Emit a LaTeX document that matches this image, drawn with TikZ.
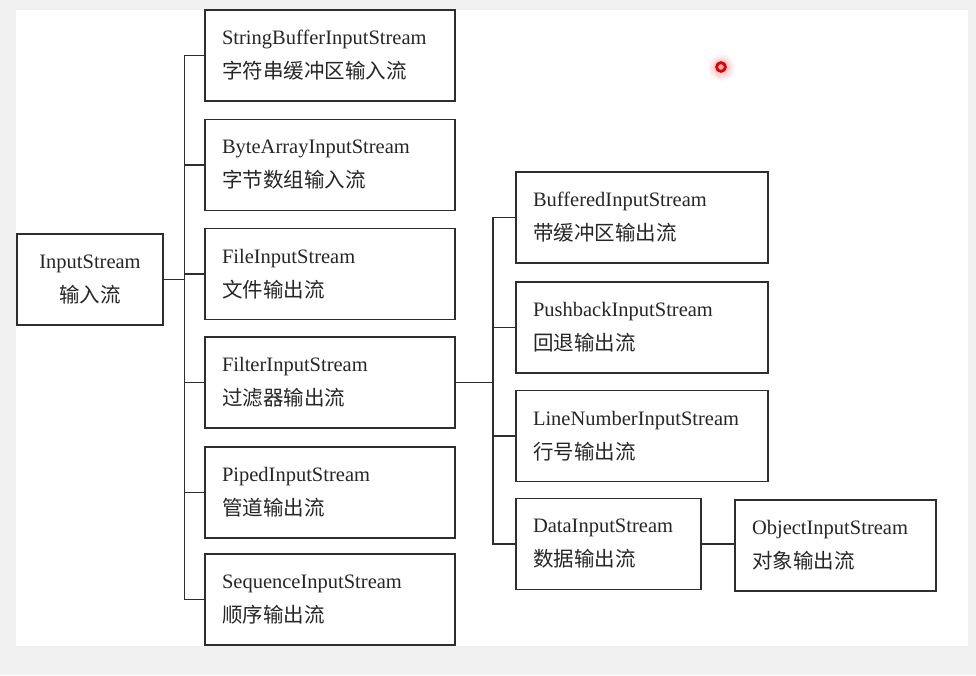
\documentclass[tikz,border=0pt]{standalone}
\usepackage{fontspec}
\setmainfont{Liberation Serif}
\newfontfamily\cjk{Noto Sans CJK SC}
\definecolor{bggray}{HTML}{F0F0F0}
\definecolor{linegray}{HTML}{2E2E2E}
\tikzset{
	box/.style = {draw=linegray, line width=1.3pt, minimum height=91pt, inner xsep=17pt,
		align=left, text=black!85, font=\fontsize{20.5}{34}\selectfont},
	link/.style = {draw=linegray, line width=1.3pt}
}
\begin{document}
\begin{tikzpicture}[x=1pt, y=-1pt]
		\useasboundingbox (0,0) rectangle (976,675);
		\fill[bggray] (0,0) rectangle (976,675);
		\fill[white] (16,10) rectangle (968,646);
		% root
		\node[box, align=center, minimum width=146pt, inner xsep=0pt] (in) at (90,279.5) {InputStream\\{\cjk 输入流}};
		% first level
		\node[box, text width=216pt] (sb) at (330,55.5) {StringBufferInputStream\\{\cjk 字符串缓冲区输入流}};
		\node[box, text width=216pt] (ba) at (330,165) {ByteArrayInputStream\\{\cjk 字节数组输入流}};
		\node[box, text width=216pt] (fi) at (330,274) {FileInputStream\\{\cjk 文件输出流}};
		\node[box, text width=216pt] (fl) at (330,382.5) {FilterInputStream\\{\cjk 过滤器输出流}};
		\node[box, text width=216pt] (pi) at (330,492.5) {PipedInputStream\\{\cjk 管道输出流}};
		\node[box, text width=216pt] (sq) at (330,599.5) {SequenceInputStream\\{\cjk 顺序输出流}};
		% second level
		\node[box, text width=218pt] (bu) at (642,217.5) {BufferedInputStream\\{\cjk 带缓冲区输出流}};
		\node[box, text width=218pt] (pb) at (642,327.5) {PushbackInputStream\\{\cjk 回退输出流}};
		\node[box, text width=218pt] (ln) at (642,436) {LineNumberInputStream\\{\cjk 行号输出流}};
		\node[box, text width=151pt] (da) at (608.5,544) {DataInputStream\\{\cjk 数据输出流}};
		\node[box, text width=167pt] (ob) at (835.5,545.5) {ObjectInputStream\\{\cjk 对象输出流}};
		% connectors
		\coordinate (t1) at (184.5,279.5);
		\coordinate (t2) at (493,382.5);
		\draw[link] (in.east) -- (t1);
		\foreach \b in {sb,ba,fi,fl,pi,sq}
			\draw[link] (\b.west) -| (t1);
		\draw[link] (fl.east) -- (t2);
		\foreach \b in {bu,pb,ln,da}
			\draw[link] (\b.west) -| (t2);
		\draw[link] (da.east) -- (da.east -| ob.west);
		% pointer mark
		\shade[inner color=red!35, outer color=white] (721,67) circle (14);
		\draw[red!90!black, line width=2.8pt] (721,67) circle (4.4);
	\end{tikzpicture}
\end{document}
